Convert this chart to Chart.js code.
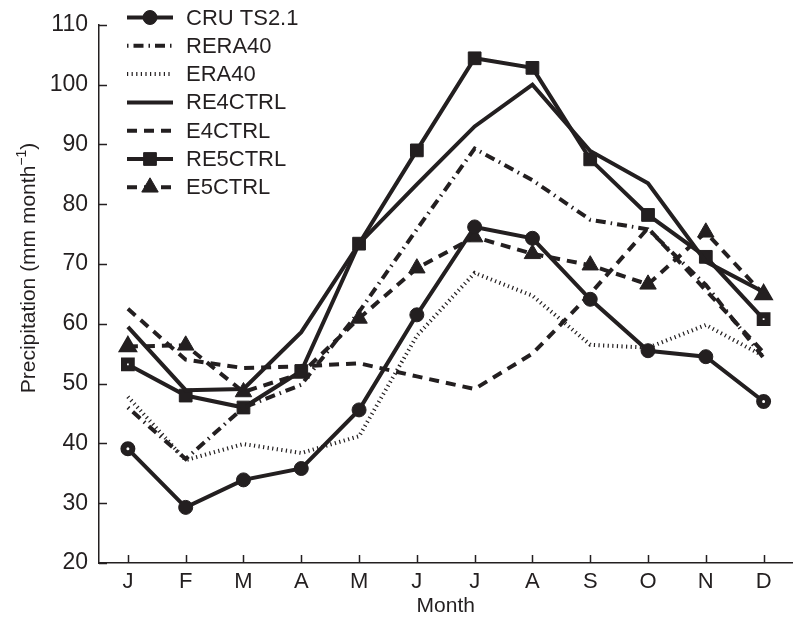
<!DOCTYPE html>
<html>
<head>
<meta charset="utf-8">
<script src="https://cdn.jsdelivr.net/npm/chart.js@4/dist/chart.umd.min.js"></script>
<style>
  html, body { margin: 0; padding: 0; background: #fff; }
  #wrap { width: 804px; height: 619px; }
</style>
</head>
<body>
<div id="wrap"><canvas id="precip-chart"></canvas></div>
<script>
//months on the x axis
const months = ["J", "F", "M", "A", "M", "J", "J", "A", "S", "O", "N", "D"];

//monthly precipitation (mm/month)
const cru    = [39.1, 29.3, 33.9, 35.8, 45.6, 61.5, 76.2, 74.3, 64.1, 55.5, 54.5, 47.0];
const rera40 = [46.0, 37.4, 46.0, 49.8, 62.0, 75.8, 89.3, 84.0, 77.4, 75.8, 66.5, 54.3];
const era40  = [47.8, 37.2, 39.9, 38.4, 41.2, 58.0, 68.5, 64.7, 56.5, 56.0, 59.8, 54.6];
const re4    = [59.5, 48.9, 49.1, 58.6, 73.4, 83.3, 93.0, 100.0, 88.9, 83.5, 70.4, 65.3];
const e4     = [62.5, 54.0, 52.6, 52.9, 53.4, 51.2, 49.1, 55.0, 65.0, 76.0, 65.6, 55.2];
const re5    = [53.2, 48.0, 46.0, 52.1, 73.4, 89.0, 104.4, 102.8, 87.5, 78.2, 71.2, 60.8];
const e5     = [56.2, 56.4, 48.6, 51.7, 60.9, 69.3, 74.5, 71.7, 69.8, 66.6, 75.3, 64.9];

//y axis range
const yMin = 20;
const yMax = 110;
const yStep = 10;

const INK = '#231f20';
const FONT = '"Liberation Sans", Arial, Helvetica, sans-serif';

//first and last markers have a little white hole in the original
const isEnd = (ctx) => ctx.dataIndex === 0 || ctx.dataIndex === months.length - 1;

function series(label, data, dash, style, radius, endRadius) {
	return {
		label: label,
		data: data,
		borderColor: INK,
		borderWidth: 4,
		borderDash: dash,
		borderCapStyle: 'butt',
		tension: 0,
		fill: false,
		pointStyle: style || false,
		legendRadius: radius,
		pointRadius: style ? (ctx) => isEnd(ctx) ? endRadius : radius : 0,
		pointBackgroundColor: (ctx) => isEnd(ctx) ? '#fff' : INK,
		pointBorderColor: INK,
		pointBorderWidth: (ctx) => isEnd(ctx) ? 6 : 1
	};
}

const precipData = {
	labels: months,
	datasets: [
		series('CRU TS2.1', cru, [], 'circle', 7, 4.5),
		series('RERA40', rera40, [1.5, 5, 10, 5], null, 0, 0),
		series('ERA40', era40, [1.2, 3.4], null, 0, 0),
		series('RE4CTRL', re4, [], null, 0, 0),
		series('E4CTRL', e4, [10, 7], null, 0, 0),
		series('RE5CTRL', re5, [], 'rect', 9, 5.5),
		series('E5CTRL', e5, [10, 7], 'triangle', 9.5, 5.5)
	]
};

//inward tick marks on the left and bottom axes
const innerTicks = {
	id: 'innerTicks',
	afterDraw(chart) {
		const {ctx, chartArea, scales} = chart;
		ctx.save();
		ctx.strokeStyle = INK;
		ctx.lineWidth = 1.5;
		ctx.setLineDash([]);
		ctx.beginPath();
		scales.y.ticks.forEach((t) => {
			const py = Math.round(scales.y.getPixelForValue(t.value)) + 0.5;
			ctx.moveTo(chartArea.left, py);
			ctx.lineTo(chartArea.left + 8, py);
		});
		scales.x.ticks.forEach((t, i) => {
			const px = Math.round(scales.x.getPixelForTick(i)) + 0.5;
			ctx.moveTo(px, chartArea.bottom);
			ctx.lineTo(px, chartArea.bottom - 8);
		});
		ctx.stroke();
		ctx.restore();
	}
};

//y title with a real superscript, sits a bit above the axis middle like the figure
const yTitle = {
	id: 'yTitle',
	afterDraw(chart) {
		const {ctx} = chart;
		const main = 'Precipitation (mm month';
		const sup = '\u22121';
		ctx.save();
		ctx.translate(28, 268);
		ctx.rotate(-Math.PI / 2);
		ctx.fillStyle = INK;
		ctx.textBaseline = 'middle';
		ctx.font = '21px ' + FONT;
		const w1 = ctx.measureText(main).width;
		ctx.font = '14px ' + FONT;
		const w2 = ctx.measureText(sup).width;
		ctx.font = '21px ' + FONT;
		const w3 = ctx.measureText(')').width;
		let x = -(w1 + w2 + w3) / 2;
		ctx.textAlign = 'left';
		ctx.fillText(main, x, 1);
		x += w1;
		ctx.font = '14px ' + FONT;
		ctx.fillText(sup, x, -6);
		x += w2;
		ctx.font = '21px ' + FONT;
		ctx.fillText(')', x, 1);
		ctx.restore();
	}
};

//legend drawn inside the plot, line sample + marker like the figure
const insideLegend = {
	id: 'insideLegend',
	afterDraw(chart) {
		const {ctx, chartArea} = chart;
		const x0 = chartArea.left + 28;
		const x1 = chartArea.left + 74;
		ctx.save();
		chart.data.datasets.forEach((ds, i) => {
			const yy = 17.5 + i * 28.3;
			ctx.strokeStyle = INK;
			ctx.lineWidth = ds.borderWidth;
			ctx.lineCap = 'butt';
			ctx.setLineDash(ds.borderDash);
			ctx.beginPath();
			ctx.moveTo(x0, yy);
			ctx.lineTo(x1, yy);
			ctx.stroke();
			ctx.setLineDash([]);
			if (ds.pointStyle) {
				ctx.fillStyle = INK;
				ctx.lineWidth = 1;
				Chart.helpers.drawPoint(ctx, {pointStyle: ds.pointStyle, radius: ds.legendRadius, rotation: 0, borderWidth: 1}, (x0 + x1) / 2, yy);
			}
			ctx.fillStyle = INK;
			ctx.font = '22px ' + FONT;
			ctx.textBaseline = 'middle';
			ctx.textAlign = 'left';
			ctx.fillText(ds.label, chartArea.left + 87, yy + 1);
		});
		ctx.restore();
	}
};

const precipOptions = {
	responsive: true,
	maintainAspectRatio: false,
	animation: false,
	layout: {
		padding: { top: 13, right: 4, left: 0, bottom: 0 }
	},
	plugins: {
		legend: { display: false },
		tooltip: { enabled: false }
	},
	scales: {
		x: {
			type: 'category',
			offset: true,
			grid: { display: false, drawTicks: false },
			border: { display: true, color: INK, width: 1.5 },
			ticks: { color: INK, font: { family: FONT, size: 22 }, padding: 6, maxRotation: 0, autoSkip: false },
			title: { display: true, text: 'Month', color: INK, font: { family: FONT, size: 21 }, padding: { top: 0, bottom: 0 } },
			afterFit(scale) { scale.height = 56; }
		},
		y: {
			min: yMin,
			max: yMax,
			grid: { display: false, drawTicks: false },
			border: { display: true, color: INK, width: 1.5 },
			ticks: { stepSize: yStep, color: INK, font: { family: FONT, size: 23 }, padding: 11 },
			title: { display: false },
			afterFit(scale) { scale.width = 99; }
		}
	}
};

const precipCanvas = document.getElementById('precip-chart');
let precipChart = new Chart(precipCanvas, {
	type: 'line',
	data: precipData,
	options: precipOptions,
	plugins: [innerTicks, yTitle, insideLegend]
});
</script>
</body>
</html>
